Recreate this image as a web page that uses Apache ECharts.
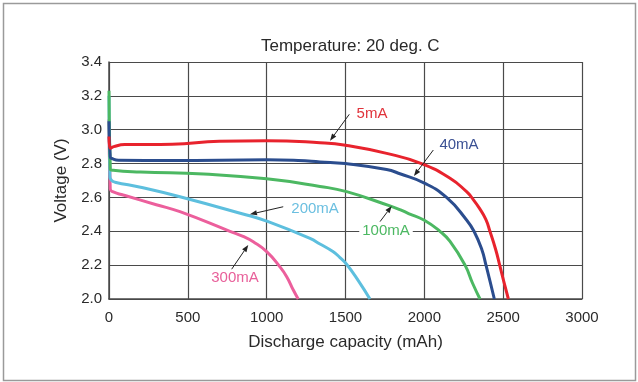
<!DOCTYPE html>
<html>
<head>
<meta charset="utf-8">
<script src="https://cdn.jsdelivr.net/npm/echarts@6/dist/echarts.min.js"></script>
<style>
    html, body { margin: 0; padding: 0; background: #fff; }
    #chart { width: 638px; height: 382px; }
</style>
</head>
<body>
<div id="chart"></div>
<script>
// discharge curves [capacity mAh, voltage V]
var curve5mA = [[0, 2.96], [8, 2.89], [30, 2.90], [100, 2.912], [400, 2.914], [700, 2.932], [1000, 2.935],
    [1338, 2.923], [1500, 2.908], [1761, 2.86], [1982, 2.80], [2163, 2.713], [2268, 2.634], [2300, 2.60],
    [2350, 2.535], [2390, 2.47], [2416, 2.40], [2452, 2.294], [2478, 2.20], [2505, 2.10], [2533, 2.00]];
var curve40mA = [[0, 3.05], [8, 2.84], [25, 2.828], [60, 2.82], [400, 2.818], [1000, 2.822], [1200, 2.818],
    [1338, 2.81], [1499, 2.80], [1761, 2.765], [1845, 2.74], [2000, 2.685], [2141, 2.60], [2268, 2.467],
    [2315, 2.40], [2364, 2.294], [2391, 2.20], [2418, 2.10], [2444, 2.00]];
var curve100mA = [[0, 3.23], [8, 2.77], [27, 2.76], [200, 2.75], [600, 2.738], [1000, 2.71],
    [1338, 2.665], [1507, 2.634], [1782, 2.55], [1845, 2.528], [1900, 2.505], [2000, 2.465], [2099, 2.40],
    [2163, 2.34], [2258, 2.20], [2306, 2.093], [2353, 2.00]];
var curve200mA = [[0, 3.20], [6, 2.72], [17, 2.70], [38, 2.69], [200, 2.66], [450, 2.604], [873, 2.496],
    [1000, 2.46], [1275, 2.358], [1338, 2.325], [1420, 2.28], [1465, 2.245], [1507, 2.205], [1580, 2.11], [1655, 2.00]];
var curve300mA = [[0, 3.06], [8, 2.65], [23, 2.634], [91, 2.614], [300, 2.557], [450, 2.516], [767, 2.40],
    [850, 2.37], [915, 2.338], [1000, 2.28], [1084, 2.19], [1127, 2.132], [1169, 2.053], [1200, 2.00]];

var seriesNames = ['300mA', '200mA', '100mA', '40mA', '5mA'];
var seriesData = [curve300mA, curve200mA, curve100mA, curve40mA, curve5mA];
var seriesColors = ['#ec5f9c', '#5dbfde', '#4cb862', '#2b4d8e', '#e8232d'];

// label text position and arrow [from, to], all in data units
var notes = [
    { text: '5mA', color: '#e0333b', at: [1668, 3.096], from: [1524, 3.091], to: [1402, 2.935] },
    { text: '40mA', color: '#3b5194', at: [2220, 2.913], from: [2057, 2.880], to: [1934, 2.727] },
    { text: '200mA', color: '#6bbfe0', at: [1307, 2.535], from: [1105, 2.545], to: [894, 2.500] },
    { text: '100mA', color: '#4cb862', at: [1757, 2.402], from: [1719, 2.457], to: [1793, 2.549] },
    { text: '300mA', color: '#e8609a', at: [799, 2.124], from: [778, 2.176], to: [883, 2.319] }
];

var fontFamily = '"Liberation Sans", Arial, sans-serif';
var gridColor = '#4a4a4a';

var chart = echarts.init(document.getElementById('chart'));
var option = {
    animation: false,
    backgroundColor: '#fff',
    textStyle: { fontFamily: fontFamily },
    title: {
        text: 'Temperature: 20 deg. C',
        left: 256,
        top: 33,
        textStyle: { fontSize: 17, fontWeight: 'normal', color: '#2a2a2a', fontFamily: fontFamily }
    },
    grid: { left: 109, right: 56, top: 62, bottom: 83 },
    xAxis: {
        type: 'value',
        min: 0,
        max: 3000,
        interval: 500,
        name: 'Discharge capacity (mAh)',
        nameLocation: 'middle',
        nameGap: 35,
        nameTextStyle: { fontSize: 17, color: '#2a2a2a' },
        axisLine: { show: true, lineStyle: { color: gridColor, width: 1.5 } },
        axisTick: { show: false },
        axisLabel: {
            fontSize: 15, color: '#2a2a2a', margin: 11,
            formatter: function (v) { return String(v); }
        },
        splitLine: { show: true, lineStyle: { color: gridColor, width: 1.2 } }
    },
    yAxis: {
        type: 'value',
        min: 2.0,
        max: 3.4,
        interval: 0.2,
        name: 'Voltage (V)',
        nameLocation: 'middle',
        nameGap: 38,
        nameTextStyle: { fontSize: 17, color: '#2a2a2a' },
        axisLine: { show: true, lineStyle: { color: gridColor, width: 1.5 } },
        axisTick: { show: false },
        axisLabel: {
            fontSize: 15, color: '#2a2a2a', margin: 7,
            formatter: function (v) { return v.toFixed(1); }
        },
        splitLine: { show: true, lineStyle: { color: gridColor, width: 1.2 } }
    },
    series: seriesData.map(function (d, i) {
        return {
            name: seriesNames[i],
            type: 'line',
            data: d,
            showSymbol: false,
            smooth: 0.5,
            lineStyle: { color: seriesColors[i], width: 3 },
            itemStyle: { color: seriesColors[i] }
        };
    })
};
chart.setOption(option);

// annotations: labels and arrows placed through the chart's own scales
var graphics = [{
    type: 'rect',
    shape: { x: 3.5, y: 3.5, width: 632, height: 377 },
    style: { fill: null, stroke: '#9a9a9a', lineWidth: 1.5 },
    silent: true
}];
notes.forEach(function (n) {
    var p = chart.convertToPixel({ gridIndex: 0 }, n.at);
    var a = chart.convertToPixel({ gridIndex: 0 }, n.from);
    var b = chart.convertToPixel({ gridIndex: 0 }, n.to);
    var ang = Math.atan2(b[1] - a[1], b[0] - a[0]);
    var len = 7, half = 2.6;
    var bx = b[0] - len * Math.cos(ang), by = b[1] - len * Math.sin(ang);
    graphics.push({
        type: 'text',
        x: p[0], y: p[1],
        style: {
            text: n.text, fill: n.color, font: '15px ' + fontFamily,
            align: 'center', verticalAlign: 'middle',
            backgroundColor: '#fff', padding: [0, 3]
        },
        z: 10
    });
    graphics.push({
        type: 'line',
        shape: { x1: a[0], y1: a[1], x2: bx, y2: by },
        style: { stroke: '#222', lineWidth: 1 },
        z: 10
    });
    graphics.push({
        type: 'polygon',
        shape: {
            points: [
                [b[0], b[1]],
                [bx + half * Math.sin(ang), by - half * Math.cos(ang)],
                [bx - half * Math.sin(ang), by + half * Math.cos(ang)]
            ]
        },
        style: { fill: '#222' },
        z: 10
    });
});
chart.setOption({ graphic: graphics });
</script>
</body>
</html>
